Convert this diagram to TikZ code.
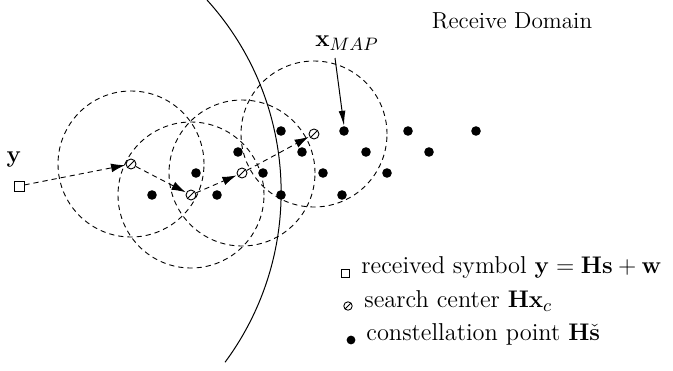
\documentclass[tikz,border=0pt]{standalone}
\usetikzlibrary{arrows.meta}
\begin{document}
\begin{tikzpicture}[x=0.5pt,y=-0.5pt,
  dot/.style={circle,fill=black,inner sep=0pt,minimum size=4.8pt},
  sc/.style={circle,draw,inner sep=0pt,minimum size=5pt,line width=0.45pt,
    path picture={\draw[line width=0.45pt] (path picture bounding box.south west) -- (path picture bounding box.north east);}},
  rsym/.style={draw,inner sep=0pt,minimum size=5pt,line width=0.45pt},
  dsh/.style={dash pattern=on 2.6pt off 2pt, line width=0.45pt},
  arr/.style={dsh,-{Latex[length=7pt,width=4.4pt]},shorten >=0.3pt},
  lbl/.style={inner sep=0pt,anchor=west,font=\fontsize{12.2}{15}\selectfont},
  font=\fontsize{11.6}{14}\selectfont]
\useasboundingbox (0,0) rectangle (673,370);

% receive domain boundary
\draw[line width=0.5pt] (207,0) arc[start angle=42.2, end angle=-36.5, radius=143pt];

\node at (512,21) (rd) {Receive Domain};

% search centres
\node[rsym] (y) at (19,186) {};
\node[font=\fontsize{13}{16}\selectfont] (ylab) at (14,159) {$\mathbf{y}$};
\node[sc] (c1) at (131,164) {};
\node[sc] (c2) at (191,195) {};
\node[sc] (c3) at (242,173) {};
\node[sc] (c4) at (314,134) {};

\foreach \c in {c1,c2,c3,c4}{\draw[dsh] (\c) circle[radius=36.5pt];}

\draw[arr] (y) -- (c1);
\draw[arr] (c1) -- (c2);
\draw[arr] (c2) -- (c3);
\draw[arr] (c3) -- (c4);

% constellation points
\node[dot] (p11) at (281,131) {};
\node[dot] (p12) at (344,131) {};
\node[dot] (p13) at (408,131) {};
\node[dot] (p14) at (476,131) {};
\node[dot] (p21) at (238,152) {};
\node[dot] (p22) at (302,152) {};
\node[dot] (p23) at (366,152) {};
\node[dot] (p24) at (429,152) {};
\node[dot] (p31) at (196,173) {};
\node[dot] (p32) at (263,173) {};
\node[dot] (p33) at (323,173) {};
\node[dot] (p34) at (387,173) {};
\node[dot] (p41) at (152,195) {};
\node[dot] (p42) at (217,195) {};
\node[dot] (p43) at (281,195) {};
\node[dot] (p44) at (342,195) {};

\node[font=\fontsize{12.6}{16}\selectfont] (xmap) at (347,43) {$\mathbf{x}_{MAP}$};
\coordinate (xs) at (335,58);
\draw[line width=0.5pt,-{Latex[length=7.5pt,width=3.4pt]}] (xs) -- (p12.north);

% legend
\node[rsym,minimum size=4pt] (l1) at (345,273) {};
\node[lbl] (t1) at (361,268) {received symbol $\mathbf{y}=\mathbf{H}\mathbf{s}+\mathbf{w}$};
\node[sc,minimum size=4.2pt] (l2) at (348,306) {};
\node[lbl] (t2) at (364,301) {search center $\mathbf{H}\mathbf{x}_c$};
\node[dot,minimum size=4.4pt] (l3) at (351,340) {};
\node[lbl] (t3) at (366,334) {constellation point $\mathbf{H}\check{\mathbf{s}}$};
\end{tikzpicture}
\end{document}
